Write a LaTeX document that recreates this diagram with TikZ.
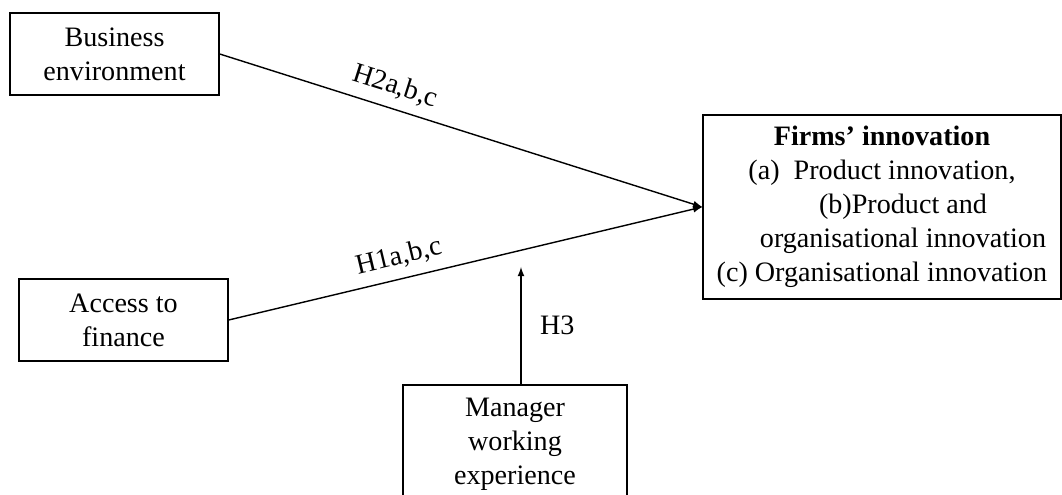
\documentclass[tikz,border=0pt]{standalone}
\usepackage{fontspec}
\setmainfont{Liberation Serif}
\tikzset{factor/.style={draw,line width=0.8pt,align=center,inner sep=2pt}}
\begin{document}
\begin{tikzpicture}[font=\fontsize{16}{19.3}\selectfont]
        \useasboundingbox (0,0) rectangle (21.24,9.9);
        %% determinants
        \node[factor,minimum width=4.18cm,minimum height=1.64cm] (business) at (2.29,8.82) {Business\\environment};
        \node[factor,minimum width=4.18cm,minimum height=1.64cm] (finance) at (2.47,3.50) {Access to\\finance};
        %% outcome
        \node[factor,minimum width=7.16cm,minimum height=3.68cm] (innovation) at (17.64,5.76) {\textbf{Firms’ innovation}\\(a)\ \ Product innovation,\\\hspace*{0.84cm}(b)Product and\\\hspace*{0.84cm}organisational innovation\\(c) Organisational innovation};
        %% moderator
        \node[factor,minimum width=4.48cm,minimum height=2.36cm] (manager) at (10.30,1.02) {Manager\\working\\experience};
        \coordinate (moderation) at (10.42,4.56);
        %% hypotheses
        \draw[line width=0.8pt,-latex] (business.east) -- (innovation.west) node[pos=0.35,sloped,above=2pt] {H2a,b,c};
        \draw[line width=0.8pt,-latex] (finance.east) -- (innovation.west) node[pos=0.37,sloped,above=2pt] {H1a,b,c};
        \draw[line width=0.8pt,-latex] (manager.north -| moderation) -- (moderation) node[midway,right=0.25cm] {H3};
    \end{tikzpicture}
\end{document}
